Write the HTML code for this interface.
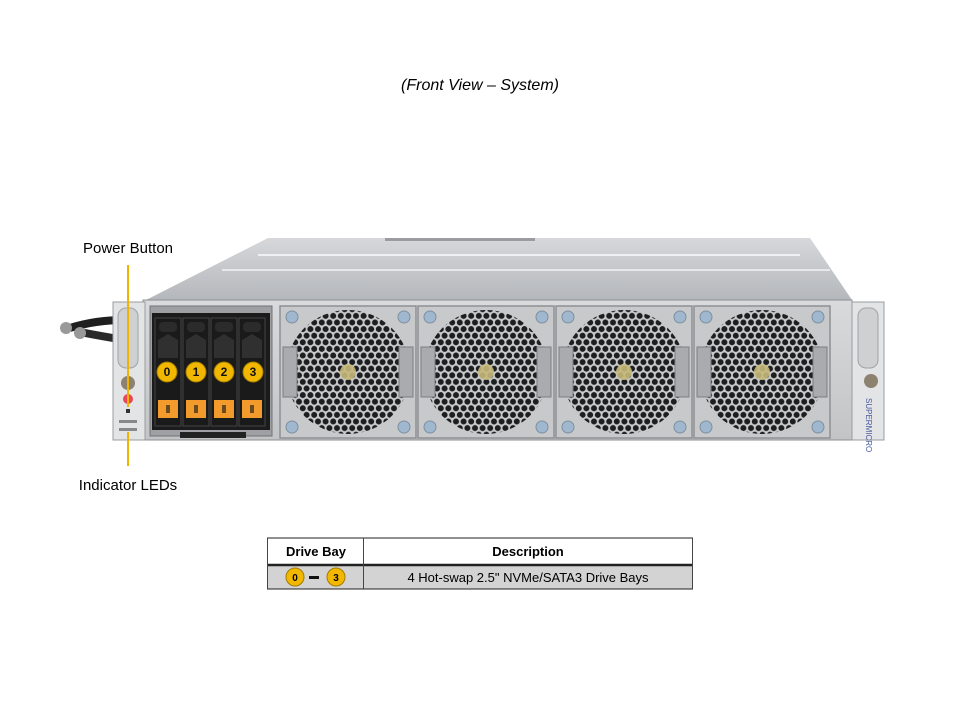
<!DOCTYPE html>
<html><head><meta charset="utf-8"><style>
html,body{margin:0;padding:0;background:#fff;width:960px;height:720px;overflow:hidden}
svg{display:block}
text{font-family:"Liberation Sans",Arial,sans-serif}
</style></head><body>
<svg width="960" height="720" viewBox="0 0 960 720" xmlns="http://www.w3.org/2000/svg">
<defs>
<linearGradient id="top" x1="0" y1="0" x2="0" y2="1">
<stop offset="0" stop-color="#d6d8db"/><stop offset="1" stop-color="#b4b7bb"/></linearGradient>
<linearGradient id="face" x1="0" y1="0" x2="0" y2="1">
<stop offset="0" stop-color="#d9dadc"/><stop offset="1" stop-color="#c2c4c6"/></linearGradient>
<pattern id="hex" width="7.6" height="13.2" patternUnits="userSpaceOnUse">
<rect width="7.6" height="13.2" fill="#c9cacc"/>
<circle cx="3.8" cy="3.3" r="3" fill="#1d1e20"/>
<circle cx="0" cy="9.9" r="3" fill="#1d1e20"/>
<circle cx="7.6" cy="9.9" r="3" fill="#1d1e20"/>
</pattern>
<g id="fan">
<rect x="0" y="0" width="136" height="132" fill="#c8c9cb" stroke="#8e9093" stroke-width="1.5"/>
<circle cx="68" cy="66" r="62" fill="url(#hex)"/>
<circle cx="68" cy="66" r="8" fill="#c7b97a" opacity="0.9"/>
<rect x="3" y="41" width="14" height="50" fill="#a9abae" stroke="#7c7e81"/>
<rect x="119" y="41" width="14" height="50" fill="#a9abae" stroke="#7c7e81"/>
<circle cx="12" cy="11" r="6" fill="#9fb7cf" stroke="#7f8f9f"/>
<circle cx="124" cy="11" r="6" fill="#9fb7cf" stroke="#7f8f9f"/>
<circle cx="12" cy="121" r="6" fill="#9fb7cf" stroke="#7f8f9f"/>
<circle cx="124" cy="121" r="6" fill="#9fb7cf" stroke="#7f8f9f"/>
</g>
<g id="bay">
<rect x="0" y="0" width="26" height="108" fill="#1a1a1a" stroke="#444" />
<rect x="4" y="4" width="18" height="10" rx="4" fill="#2b2b2b"/>
<path d="M3 22 L13 16 L23 22 L23 40 L3 40Z" fill="#303030"/>
<rect x="3" y="82" width="20" height="18" fill="#f39a2c"/>
<rect x="11" y="87" width="4" height="8" fill="#6b4a20"/>
</g>
</defs>

<text x="480" y="90" text-anchor="middle" font-size="16" font-style="italic" fill="#000">(Front View – System)</text>

<!-- chassis top -->
<polygon points="268,238 810,238 852,300 146,300" fill="url(#top)"/>
<rect x="385" y="238" width="150" height="3" fill="#9a9ca0"/>
<line x1="258" y1="255" x2="800" y2="255" stroke="#eef0f2" stroke-width="2"/>
<line x1="222" y1="270" x2="830" y2="270" stroke="#e6e8ea" stroke-width="2"/>
<!-- cables -->
<path d="M70 328 Q95 320 125 320" stroke="#1f1f1f" stroke-width="8" fill="none"/>
<path d="M80 332 Q100 336 125 340" stroke="#2a2a2a" stroke-width="8" fill="none"/>
<circle cx="66" cy="328" r="6" fill="#999"/><circle cx="80" cy="333" r="6" fill="#999"/>
<!-- front face -->
<rect x="143" y="300" width="709" height="140" fill="url(#face)" stroke="#8d8f92"/>
<!-- left ear -->
<rect x="113" y="302" width="32" height="138" fill="#e3e4e5" stroke="#9a9c9f"/>
<rect x="118" y="308" width="20" height="60" rx="8" fill="#cfd0d2" stroke="#a0a2a5"/>
<circle cx="128" cy="383" r="7" fill="#8d8270"/>
<circle cx="128" cy="399" r="5" fill="#e8475a"/>
<rect x="126" y="409" width="4" height="4" fill="#333"/>
<rect x="119" y="420" width="18" height="3" fill="#888"/><rect x="119" y="428" width="18" height="3" fill="#888"/>
<!-- right ear -->
<rect x="852" y="302" width="32" height="138" fill="#e3e4e5" stroke="#9a9c9f"/>
<rect x="858" y="308" width="20" height="60" rx="8" fill="#cfd0d2" stroke="#a0a2a5"/>
<circle cx="871" cy="381" r="7" fill="#8d8270"/>
<text x="0" y="0" font-size="8" fill="#4a5aa0" transform="translate(866,398) rotate(90)">SUPERMICRO</text>
<!-- drive cage -->
<rect x="150" y="306" width="122" height="130" fill="#9ea0a3" stroke="#707275"/>
<rect x="152" y="313" width="118" height="117" fill="#1b1b1b"/>
<use href="#bay" x="155" y="318"/>
<use href="#bay" x="183" y="318"/>
<use href="#bay" x="211" y="318"/>
<use href="#bay" x="239" y="318"/>
<rect x="180" y="432" width="66" height="6" fill="#222"/>
<g font-size="12" font-weight="bold" text-anchor="middle" fill="#111">
<circle cx="167" cy="372" r="10" fill="#f2b800" stroke="#a17c00"/><text x="167" y="376">0</text>
<circle cx="196" cy="372" r="10" fill="#f2b800" stroke="#a17c00"/><text x="196" y="376">1</text>
<circle cx="224" cy="372" r="10" fill="#f2b800" stroke="#a17c00"/><text x="224" y="376">2</text>
<circle cx="253" cy="372" r="10" fill="#f2b800" stroke="#a17c00"/><text x="253" y="376">3</text>
</g>
<!-- fans -->
<use href="#fan" x="280" y="306"/>
<use href="#fan" x="418" y="306"/>
<use href="#fan" x="556" y="306"/>
<use href="#fan" x="694" y="306"/>
<!-- labels -->
<line x1="128" y1="265" x2="128" y2="407" stroke="#f0b400" stroke-width="2"/>
<line x1="128" y1="432" x2="128" y2="466" stroke="#f0b400" stroke-width="2"/>
<text x="128" y="253" text-anchor="middle" font-size="15" fill="#000">Power Button</text>
<text x="128" y="490" text-anchor="middle" font-size="15" fill="#000">Indicator LEDs</text>

<!-- table -->
<rect x="267" y="566" width="426" height="23" fill="#d3d3d3"/>
<line x1="267" y1="538" x2="693" y2="538" stroke="#222" stroke-width="1"/>
<line x1="267" y1="565" x2="693" y2="565" stroke="#222" stroke-width="2.5"/>
<line x1="267" y1="589" x2="693" y2="589" stroke="#222" stroke-width="1"/>
<line x1="267.5" y1="538" x2="267.5" y2="589" stroke="#444"/>
<line x1="363.5" y1="538" x2="363.5" y2="589" stroke="#444"/>
<line x1="692.5" y1="538" x2="692.5" y2="589" stroke="#444"/>
<text x="316" y="556" text-anchor="middle" font-size="13" font-weight="bold">Drive Bay</text>
<text x="528" y="556" text-anchor="middle" font-size="13" font-weight="bold">Description</text>
<text x="528" y="582" text-anchor="middle" font-size="13">4 Hot-swap 2.5" NVMe/SATA3 Drive Bays</text>
<circle cx="295" cy="577" r="9" fill="#f2b800" stroke="#a17c00"/><text x="295" y="581" text-anchor="middle" font-size="10" font-weight="bold">0</text>
<rect x="309" y="576" width="10" height="3" fill="#111"/>
<circle cx="336" cy="577" r="9" fill="#f2b800" stroke="#a17c00"/><text x="336" y="581" text-anchor="middle" font-size="10" font-weight="bold">3</text>
</svg>
</body></html>
